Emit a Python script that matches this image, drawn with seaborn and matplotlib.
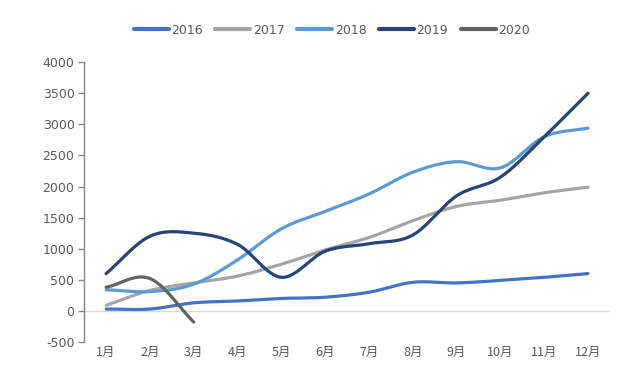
import numpy as np
import pandas as pd
import matplotlib
matplotlib.use("Agg")
import matplotlib.pyplot as plt
import seaborn as sns

months = ["1月", "2月", "3月", "4月", "5月", "6月", "7月", "8月", "9月", "10月", "11月", "12月"]
years = ["2016", "2017", "2018", "2019", "2020"]
v2016 = [30, 30, 130, 160, 200, 220, 300, 460, 450, 490, 540, 600]
v2017 = [90, 330, 450, 560, 750, 980, 1180, 1450, 1680, 1780, 1900, 1990]
v2018 = [340, 310, 430, 820, 1320, 1600, 1880, 2230, 2400, 2300, 2800, 2940]
v2019 = [600, 1200, 1250, 1070, 540, 960, 1080, 1220, 1850, 2150, 2800, 3500]
v2020 = [380, 520, -180]
colors = ["#4472C4", "#A5A5A5", "#5B9BD5", "#264478", "#636363"]
series = [v2016, v2017, v2018, v2019, v2020]


def smooth(y, n=30):
    # Catmull-Rom rendering of the read points (like Excel smoothed lines)
    y = np.asarray(y, float)
    x = np.arange(len(y), dtype=float)
    px = np.concatenate([[2 * x[0] - x[1]], x, [2 * x[-1] - x[-2]]])
    py = np.concatenate([[2 * y[0] - y[1]], y, [2 * y[-1] - y[-2]]])
    xs, ys = [], []
    for i in range(1, len(px) - 2):
        t = np.linspace(0, 1, n, endpoint=False)
        for arr, out in ((px, xs), (py, ys)):
            p0, p1, p2, p3 = arr[i - 1], arr[i], arr[i + 1], arr[i + 2]
            m1 = (p2 - p0) / 2
            m2 = (p3 - p1) / 2
            h00 = 2 * t**3 - 3 * t**2 + 1
            h10 = t**3 - 2 * t**2 + t
            h01 = -2 * t**3 + 3 * t**2
            h11 = t**3 - t**2
            out.extend(h00 * p1 + h10 * m1 + h01 * p2 + h11 * m2)
    xs.append(x[-1]); ys.append(y[-1])
    return np.array(xs), np.array(ys)


rows = []
for yr, vals in zip(years, series):
    sx, sy = smooth(vals)
    for a, b in zip(sx, sy):
        rows.append({"x": a, "y": b, "year": yr})
df = pd.DataFrame(rows)

sns.set_theme(style="white")
plt.rcParams["font.family"] = ["Noto Sans CJK SC", "DejaVu Sans"]
plt.rcParams["axes.unicode_minus"] = False

fig = plt.figure(figsize=(6.38, 3.70), dpi=100)
ax = fig.add_axes([0.132, 0.0757, 0.824, 0.7563])
sns.lineplot(data=df, x="x", y="y", hue="year", palette=colors, sort=False,
             estimator=None, linewidth=2.3, ax=ax, legend=False)

ax.axhline(0, color="#D9D9D9", linewidth=1, zorder=0)
ax.set_xlim(-0.5, 11.5)
ax.set_ylim(-500, 4000)
ax.set_yticks(np.arange(-500, 4001, 500))
ax.set_xticks(range(12))
ax.set_xticklabels(months)
ax.set_xlabel("")
ax.set_ylabel("")
for s in ["top", "right", "bottom"]:
    ax.spines[s].set_visible(False)
ax.spines["left"].set_color("#868686")
ax.spines["left"].set_linewidth(1)
ax.tick_params(axis="y", which="both", left=True, length=4, width=1, color="#868686",
               labelsize=9, labelcolor="#595959", pad=3)
for lab in ax.get_yticklabels():
    lab.set_fontfamily(["DejaVu Sans"])
ax.tick_params(axis="x", bottom=False, labelsize=9, labelcolor="#595959", pad=-3)
ax.grid(False)

from matplotlib.lines import Line2D
handles = [Line2D([0], [0], color=c, linewidth=3, solid_capstyle="round") for c in colors]
leg = fig.legend(handles, years, loc="center", bbox_to_anchor=(0.52, 0.918), ncol=5,
                 frameon=False, fontsize=9, labelcolor="#595959", handlelength=2.8,
                 handletextpad=0.2, columnspacing=1.0)
for t in leg.get_texts():
    t.set_fontfamily(["DejaVu Sans"])

fig.savefig("out.png", dpi=100, facecolor="white")
